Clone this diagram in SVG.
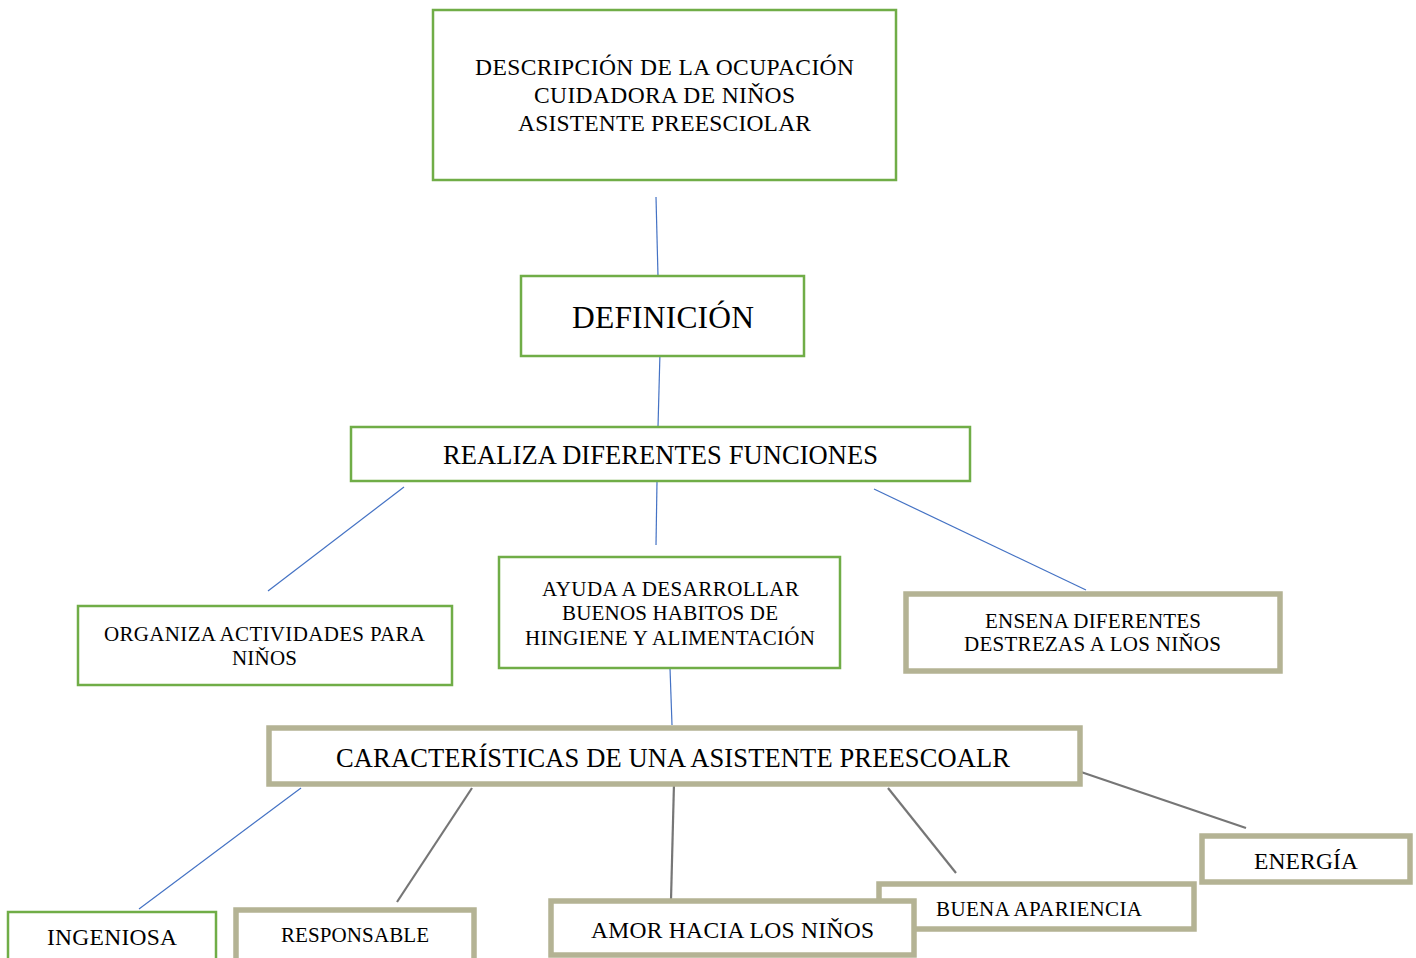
<svg xmlns="http://www.w3.org/2000/svg" width="1416" height="958" viewBox="0 0 1416 958">
<style>
.g{fill:#fff;stroke:#70ad47;stroke-width:2.5}
.o{fill:#fff;stroke:#b4b394;stroke-width:5.5}
.t{font-family:"Liberation Serif","Times New Roman",serif;fill:#000;text-anchor:middle}
.cb{stroke:#4472c4;stroke-width:1.2;fill:none}
.cg{stroke:#767676;stroke-width:2.2;fill:none}
</style>
<rect width="1416" height="958" fill="#fff"/>
<g id="connectors">
<line class="cb" x1="656" y1="197" x2="658" y2="276"/>
<line class="cb" x1="660" y1="352" x2="658" y2="427"/>
<line class="cb" x1="404" y1="487" x2="268" y2="591"/>
<line class="cb" x1="657" y1="481" x2="656" y2="545"/>
<line class="cb" x1="874" y1="489" x2="1086" y2="590"/>
<line class="cb" x1="670" y1="668" x2="672" y2="725"/>
<line class="cb" x1="301" y1="788" x2="139" y2="909"/>
<line class="cg" x1="472" y1="788" x2="397" y2="902"/>
<line class="cg" x1="674" y1="783" x2="671" y2="900"/>
<line class="cg" x1="888" y1="788" x2="956" y2="873"/>
<line class="cg" x1="1081" y1="772" x2="1246" y2="828"/>
</g>
<g id="n-desc">
<rect class="g" x="433" y="10" width="463" height="170"/>
<text class="t" font-size="23.5" x="664.5" y="75" textLength="379">DESCRIPCIÓN DE LA OCUPACIÓN</text>
<text class="t" font-size="23.5" x="664.5" y="103" textLength="261">CUIDADORA DE NIŇOS</text>
<text class="t" font-size="23.5" x="664.5" y="131" textLength="293">ASISTENTE PREESCIOLAR</text>
</g>
<g id="n-def">
<rect class="g" x="521" y="276" width="283" height="80"/>
<text class="t" font-size="31.5" x="663" y="328" textLength="182">DEFINICIÓN</text>
</g>
<g id="n-realiza">
<rect class="g" x="351" y="427" width="619" height="54"/>
<text class="t" font-size="26.5" x="660.5" y="464" textLength="435">REALIZA DIFERENTES FUNCIONES</text>
</g>
<g id="n-organiza">
<rect class="g" x="78" y="606" width="374" height="79"/>
<text class="t" font-size="21" x="264.5" y="641" textLength="321">ORGANIZA ACTIVIDADES PARA</text>
<text class="t" font-size="21" x="264.5" y="665" textLength="65">NIŇOS</text>
</g>
<g id="n-ayuda">
<rect class="g" x="499" y="557" width="341" height="111"/>
<text class="t" font-size="21" x="670.5" y="596" textLength="257">AYUDA A DESARROLLAR</text>
<text class="t" font-size="21" x="670" y="620" textLength="216">BUENOS HABITOS DE</text>
<text class="t" font-size="21" x="670" y="645" textLength="290">HINGIENE Y ALIMENTACIÓN</text>
</g>
<g id="n-ensena">
<rect class="o" x="906" y="594" width="374" height="77"/>
<text class="t" font-size="21" x="1093" y="628" textLength="216">ENSENA DIFERENTES</text>
<text class="t" font-size="21" x="1092.5" y="651" textLength="257">DESTREZAS A LOS NIŇOS</text>
</g>
<g id="n-caract">
<rect class="o" x="269" y="728" width="811" height="56"/>
<text class="t" font-size="26.5" x="673" y="767" textLength="674">CARACTERÍSTICAS DE UNA ASISTENTE PREESCOALR</text>
</g>
<g id="n-energia">
<rect class="o" x="1202" y="836" width="208" height="46"/>
<text class="t" font-size="23.5" x="1306" y="869" textLength="104">ENERGÍA</text>
</g>
<g id="n-buena">
<rect class="o" x="879" y="884" width="315" height="45"/>
<text class="t" font-size="21" x="1039" y="916" textLength="206">BUENA APARIENCIA</text>
</g>
<g id="n-amor">
<rect class="o" x="551" y="901" width="363" height="54"/>
<text class="t" font-size="23.5" x="732.5" y="938" textLength="283">AMOR HACIA LOS NIŇOS</text>
</g>
<g id="n-responsable">
<rect class="o" x="236" y="910" width="238" height="60"/>
<text class="t" font-size="21" x="355" y="942" textLength="148">RESPONSABLE</text>
</g>
<g id="n-ingeniosa">
<rect class="g" x="8" y="912" width="208" height="60"/>
<text class="t" font-size="23.5" x="112" y="945" textLength="130">INGENIOSA</text>
</g>
</svg>
